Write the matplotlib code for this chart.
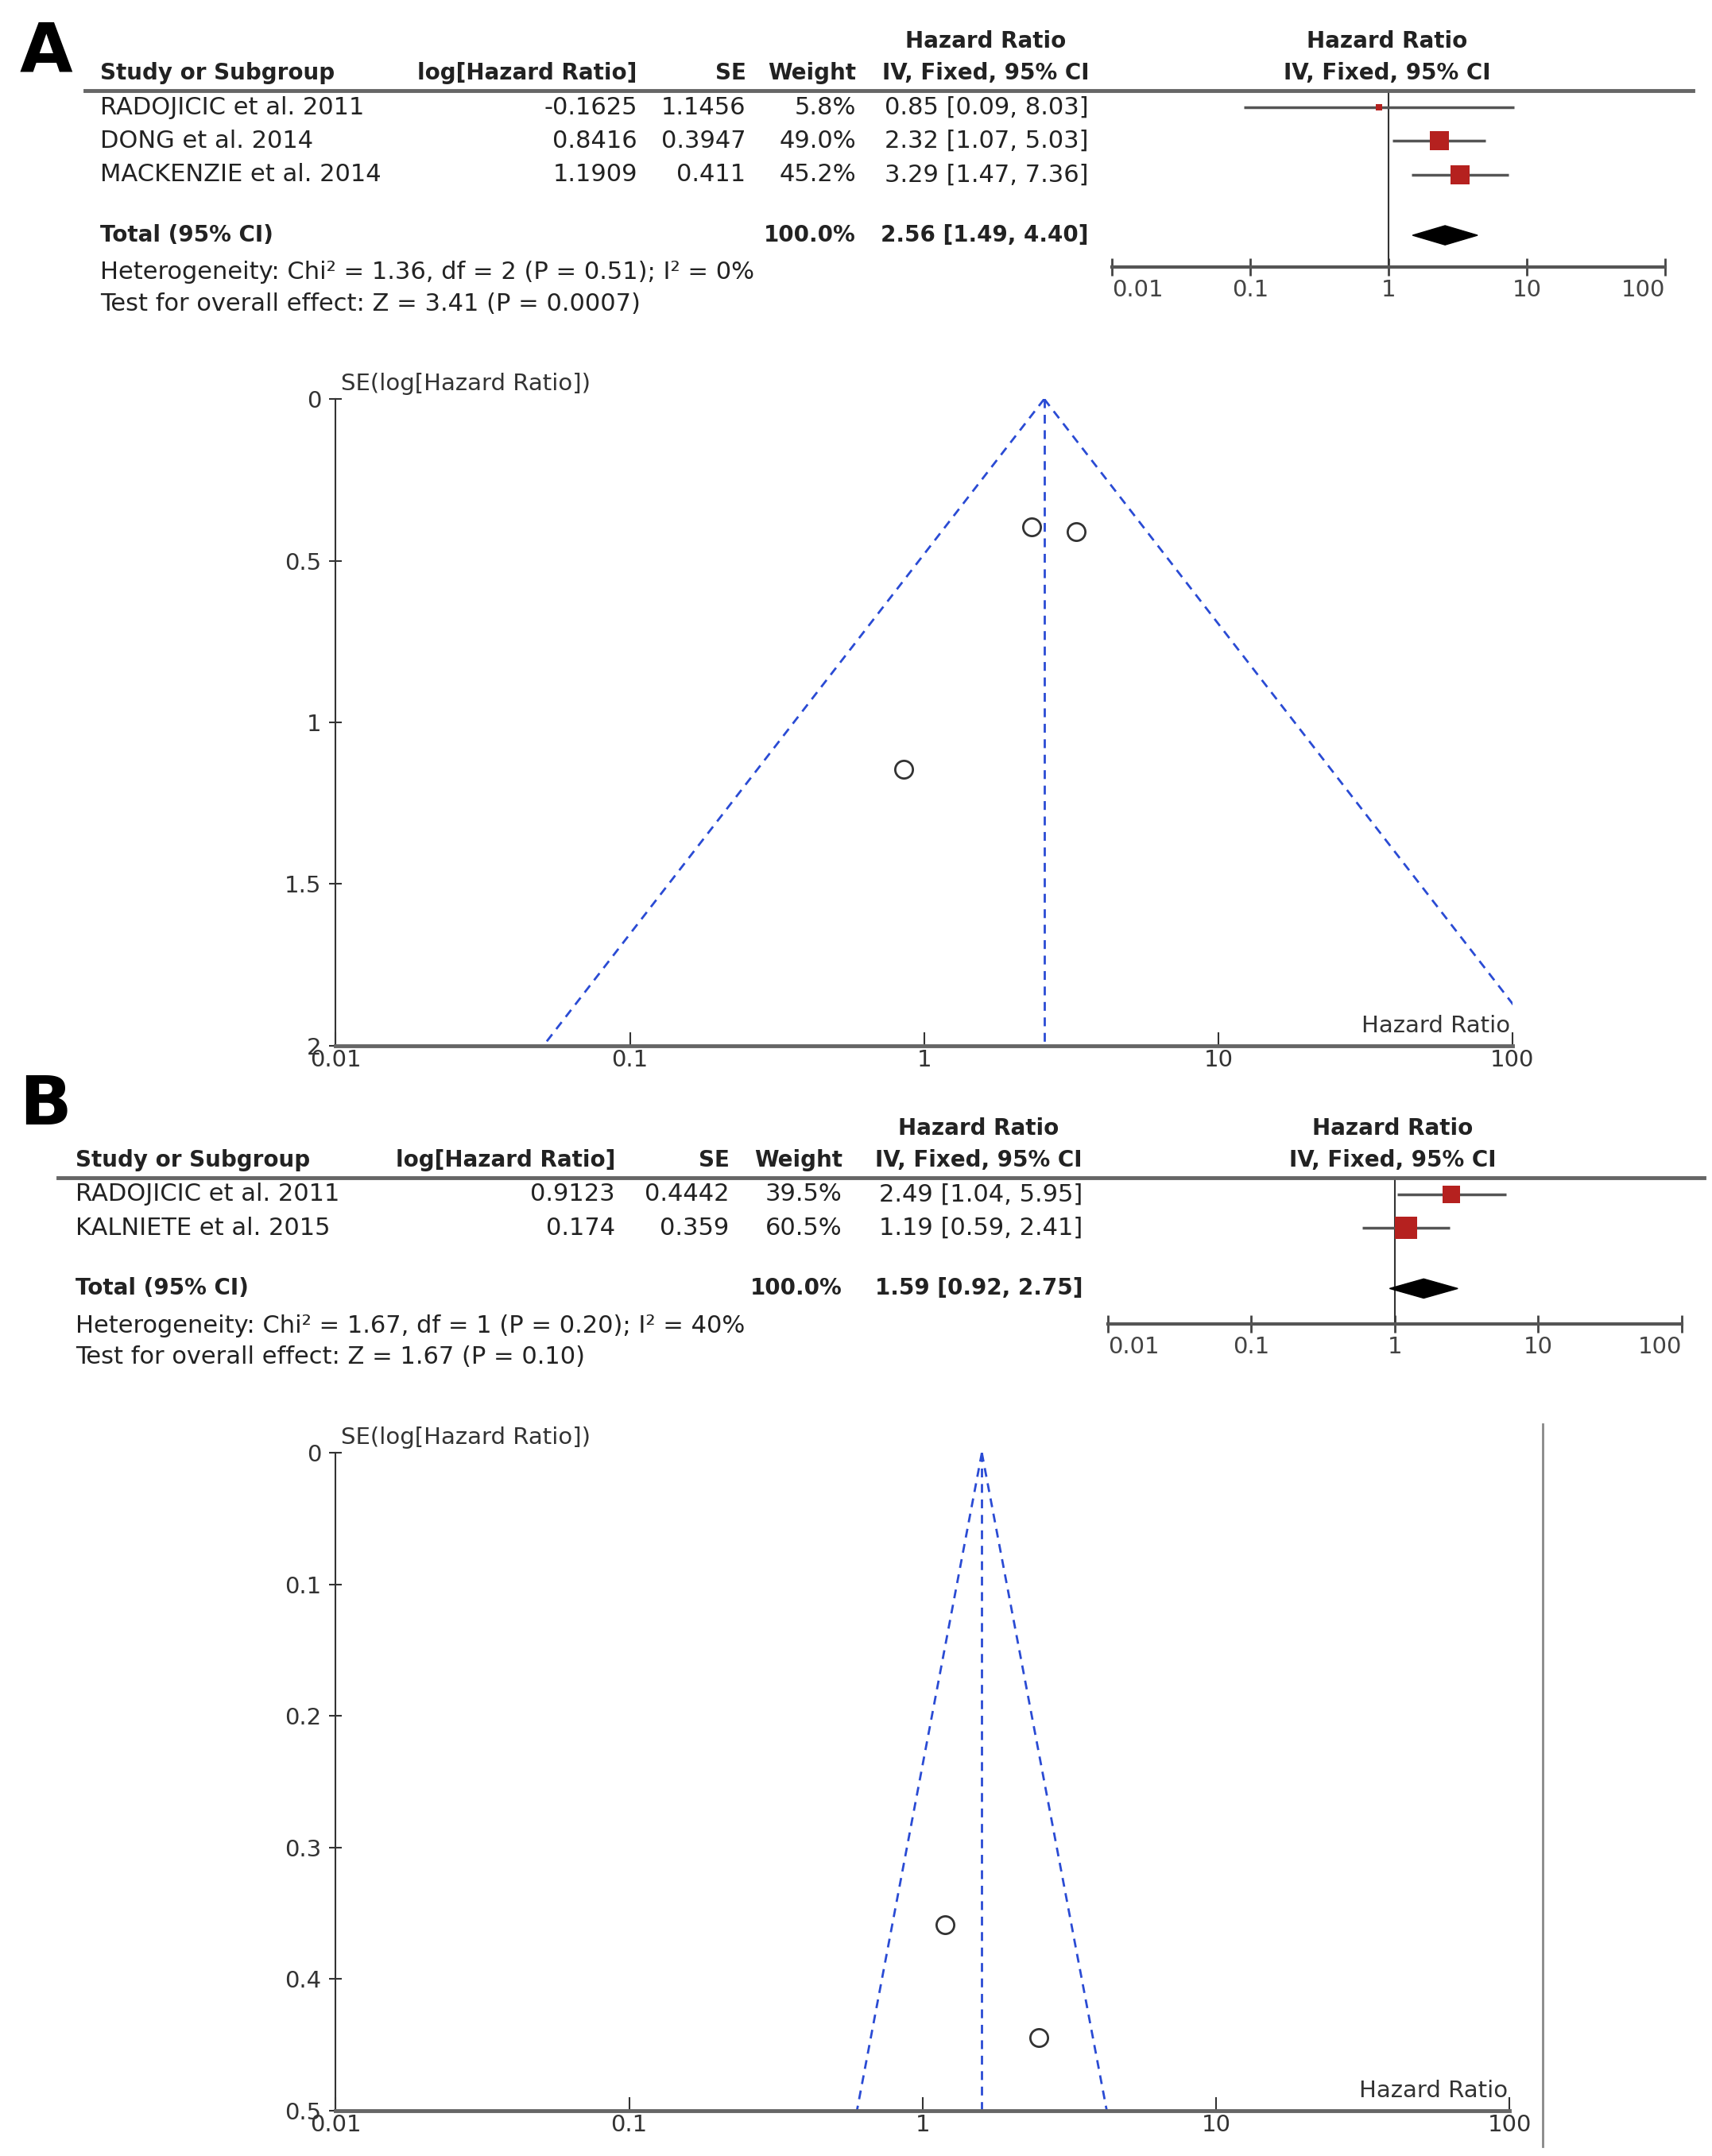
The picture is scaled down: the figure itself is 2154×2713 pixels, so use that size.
import numpy as np
import matplotlib
matplotlib.use("Agg")
import matplotlib.pyplot as plt
from matplotlib.lines import Line2D
from matplotlib.patches import Polygon

plt.rcParams['font.family'] = ['DejaVu Sans']

# ---- data ----
studies_a = ["RADOJICIC et al. 2011", "DONG et al. 2014", "MACKENZIE et al. 2014"]
loghr_a = [-0.1625, 0.8416, 1.1909]
se_a = [1.1456, 0.3947, 0.411]
weight_a = [5.8, 49.0, 45.2]
hr_a = [0.85, 2.32, 3.29]
lo_a = [0.09, 1.07, 1.47]
hi_a = [8.03, 5.03, 7.36]
total_a = [2.56, 1.49, 4.40]
het_a = "Heterogeneity: Chi\u00b2 = 1.36, df = 2 (P = 0.51); I\u00b2 = 0%"
test_a = "Test for overall effect: Z = 3.41 (P = 0.0007)"

studies_b = ["RADOJICIC et al. 2011", "KALNIETE et al. 2015"]
loghr_b = [0.9123, 0.174]
se_b = [0.4442, 0.359]
weight_b = [39.5, 60.5]
hr_b = [2.49, 1.19]
lo_b = [1.04, 0.59]
hi_b = [5.95, 2.41]
total_b = [1.59, 0.92, 2.75]
het_b = "Heterogeneity: Chi\u00b2 = 1.67, df = 1 (P = 0.20); I\u00b2 = 40%"
test_b = "Test for overall effect: Z = 1.67 (P = 0.10)"

ticks_hr = [0.01, 0.1, 1, 10, 100]
tick_labels_hr = ["0.01", "0.1", "1", "10", "100"]
se_ticks_a = [0, 0.5, 1, 1.5, 2]
se_labels_a = ["0", "0.5", "1", "1.5", "2"]
se_ticks_b = [0, 0.1, 0.2, 0.3, 0.4, 0.5]
se_labels_b = ["0", "0.1", "0.2", "0.3", "0.4", "0.5"]

# ---- layout helpers (reference units, 1244 wide) ----
W, H = 1244.0, 1567.0
fig = plt.figure(figsize=(21.54, 27.13), dpi=100)

FS = 22       # table text
FS_B = 20     # bold table text
FS_AX = 21    # axis text


def fx(x):
    return x / W


def fy(y):
    return 1 - y / H


def txt(x, y, s, ha='left', bold=False):
    fig.text(fx(x), fy(y), s, ha=ha, va='center', fontsize=FS_B if bold else FS,
             fontweight='bold' if bold else 'normal', color='#222222')


def hline(x0, x1, y, lw=3.5, color='#666666'):
    fig.add_artist(Line2D([fx(x0), fx(x1)], [fy(y), fy(y)], lw=lw, color=color))


RED = '#b5211f'
BLUE = '#2a4bd4'


def table(top, x0, rule_x, cols, studies, loghr, se, weight, hr, lo, hi, total, het, test):
    c_study, c_log, c_se, c_w, c_ci, c_cih, c_forest = cols
    txt(c_cih, top, "Hazard Ratio", ha='center', bold=True)
    txt(c_forest, top, "Hazard Ratio", ha='center', bold=True)
    y2 = top + 23
    txt(c_study, y2, "Study or Subgroup", bold=True)
    txt(c_log, y2, "log[Hazard Ratio]", ha='right', bold=True)
    txt(c_se, y2, "SE", ha='right', bold=True)
    txt(c_w, y2, "Weight", ha='right', bold=True)
    txt(c_cih, y2, "IV, Fixed, 95% CI", ha='center', bold=True)
    txt(c_forest, y2, "IV, Fixed, 95% CI", ha='center', bold=True)
    rule = top + 36
    hline(x0, rule_x, rule)
    rows = []
    for i in range(len(studies)):
        y = rule + 12 + 24.5 * i
        rows.append(y)
        txt(c_study, y, studies[i])
        txt(c_log, y, str(loghr[i]), ha='right')
        txt(c_se, y, str(se[i]), ha='right')
        txt(c_w, y, f"{weight[i]:.1f}%", ha='right')
        txt(c_ci, y, f"{hr[i]:.2f} [{lo[i]:.2f}, {hi[i]:.2f}]", ha='right')
    ytot = rows[-1] + 44
    txt(c_study, ytot, "Total (95% CI)", bold=True)
    txt(c_w, ytot, "100.0%", ha='right', bold=True)
    txt(c_ci, ytot, f"{total[0]:.2f} [{total[1]:.2f}, {total[2]:.2f}]", ha='right', bold=True)
    txt(c_study, ytot + 27, het)
    txt(c_study, ytot + 50, test)
    return rule, rows, ytot


def forest(left, right, top, axis_y, rows, ytot, weight, hr, lo, hi, total):
    ax = fig.add_axes([fx(left), fy(axis_y), (right - left) / W, (axis_y - top) / H])
    ax.set_xscale('log')
    ax.set_xlim(0.01, 100)
    ax.set_ylim(axis_y, top)
    for s in ['left', 'right', 'top']:
        ax.spines[s].set_visible(False)
    ax.spines['bottom'].set_linewidth(3)
    ax.spines['bottom'].set_color('#555555')
    ax.set_yticks([])
    ax.set_xticks(ticks_hr)
    ax.set_xticklabels(tick_labels_hr)
    ax.minorticks_off()
    ax.tick_params(axis='x', direction='inout', length=16, width=2, colors='#444444',
                   labelsize=FS_AX, pad=3)
    for lab, ha in zip(ax.get_xticklabels(), ['left', 'center', 'center', 'center', 'right']):
        lab.set_ha(ha)
    ax.axvline(1, color='#333333', lw=1.5)
    for i, y in enumerate(rows):
        ax.plot([lo[i], hi[i]], [y, y], color='#555555', lw=2.5, solid_capstyle='butt')
        ax.scatter([hr[i]], [y], marker='s', s=6.5 * weight[i], color=RED, zorder=3, linewidths=0)
    est, l, h = total
    d = 7
    ax.add_patch(Polygon([[l, ytot], [est, ytot - d], [h, ytot], [est, ytot + d]],
                         closed=True, color='black', zorder=3))
    return ax


def funnel(top, bottom, left, right, se_max, se_ticks, se_labels, hr, se, total):
    ax = fig.add_axes([fx(left), fy(bottom), (right - left) / W, (bottom - top) / H])
    ax.set_xscale('log')
    ax.set_xlim(0.01, 100)
    ax.set_ylim(se_max, 0)
    for s in ['right', 'top']:
        ax.spines[s].set_visible(False)
    ax.spines['left'].set_linewidth(1.5)
    ax.spines['left'].set_color('#333333')
    ax.spines['bottom'].set_linewidth(3.5)
    ax.spines['bottom'].set_color('#666666')
    ax.set_xticks(ticks_hr)
    ax.set_xticklabels(tick_labels_hr)
    ax.minorticks_off()
    ax.set_yticks(se_ticks)
    ax.set_yticklabels(se_labels)
    ax.tick_params(axis='x', direction='in', length=12, width=1.5, colors='#333333',
                   labelsize=FS_AX, pad=3)
    ax.tick_params(axis='y', direction='inout', length=12, width=1.5, colors='#333333',
                   labelsize=FS_AX, pad=7)
    se_line = np.array([0, se_max])
    est = total[0]
    ax.plot(est * np.exp(-1.96 * se_line), se_line, ls=(0, (4, 3)), color=BLUE, lw=2)
    ax.plot(est * np.exp(1.96 * se_line), se_line, ls=(0, (4, 3)), color=BLUE, lw=2)
    ax.plot([est, est], [0, se_max], ls=(0, (4, 3)), color=BLUE, lw=2)
    ax.plot(hr, se, 'o', mfc='none', mec='#333333', ms=16, mew=2, clip_on=False)
    ax.annotate("SE(log[Hazard Ratio])", xy=(0, 1), xycoords='axes fraction',
                xytext=(5, 14), textcoords='offset points', ha='left', va='center',
                fontsize=FS_AX, color='#333333')
    ax.annotate("Hazard Ratio", xy=(1, 0), xycoords='axes fraction',
                xytext=(-2, 18), textcoords='offset points', ha='right', va='center',
                fontsize=FS_AX, color='#333333')
    return ax


# ---- panel A ----
fig.text(fx(14), fy(38), "A", fontsize=62, fontweight='bold', va='center', ha='left')
cols_a = (73, 463, 542, 622, 791, 716, 1008)
rule_a, rows_a, ytot_a = table(30, 62, 1230, cols_a, studies_a, loghr_a, se_a, weight_a,
                               hr_a, lo_a, hi_a, total_a, het_a, test_a)
forest(808, 1210, rule_a, 194, rows_a, ytot_a, weight_a, hr_a, lo_a, hi_a, total_a)
funnel(290, 760, 244, 1099, 2, se_ticks_a, se_labels_a, hr_a, se_a, total_a)

# ---- panel B ----
fig.text(fx(14), fy(804), "B", fontsize=62, fontweight='bold', va='center', ha='left')
cols_b = (55, 447, 530, 612, 787, 711, 1012)
rule_b, rows_b, ytot_b = table(820, 42, 1238, cols_b, studies_b, loghr_b, se_b, weight_b,
                               hr_b, lo_b, hi_b, total_b, het_b, test_b)
forest(805, 1222, rule_b, 962, rows_b, ytot_b, weight_b, hr_b, lo_b, hi_b, total_b)
funnel(1056, 1534, 244, 1097, 0.5, se_ticks_b, se_labels_b, hr_b, se_b, total_b)
fig.add_artist(Line2D([fx(1121), fx(1121)], [fy(1035), fy(1560)], lw=2, color='#888888'))

fig.savefig("out.png", dpi=100, facecolor='white')
